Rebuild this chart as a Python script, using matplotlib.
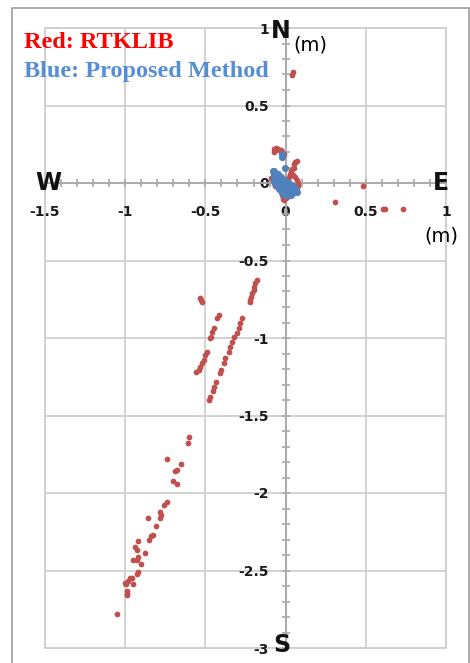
import matplotlib.pyplot as plt
import matplotlib.ticker as mticker
from matplotlib.patches import Rectangle
import numpy as np

##-------------------------------------------------------------
# RTKLIB positions, (east, north) in metres
rtk_top = [(0.040, 0.700), (0.046, 0.716)]
rtk_origin = [(-0.070, 0.220), (-0.060, 0.225), (-0.050, 0.220), (-0.040, 0.215),
              (-0.030, 0.210), (-0.075, 0.200), (-0.020, 0.200), (-0.010, 0.190),
              (0.070, 0.140), (0.060, 0.135), (0.055, 0.120), (0.050, 0.100),
              (0.040, 0.090), (0.035, 0.075), (0.030, 0.060), (0.045, 0.050),
              (0.060, 0.040), (0.070, 0.020), (0.075, 0.000), (0.080, -0.020),
              (0.070, -0.060), (-0.090, 0.030), (-0.080, 0.010), (-0.070, 0.000),
              (-0.065, -0.020), (-0.020, -0.080), (-0.015, -0.100), (-0.010, -0.110),
              (0.005, -0.095), (-0.030, -0.060), (0.020, 0.040)]
rtk_east = [(0.480, -0.020), (0.310, -0.120), (0.610, -0.170), (0.620, -0.165),
            (0.730, -0.170)]
rtk_streak_a = [(-0.181, -0.626), (-0.188, -0.647), (-0.194, -0.669), (-0.198, -0.690),
                (-0.208, -0.712), (-0.214, -0.734), (-0.219, -0.755), (-0.223, -0.770)]
rtk_streak_b = [(-0.271, -0.873), (-0.285, -0.905), (-0.292, -0.938), (-0.306, -0.970),
                (-0.323, -0.991), (-0.333, -1.024), (-0.344, -1.056), (-0.354, -1.088),
                (-0.375, -1.131), (-0.385, -1.163), (-0.402, -1.206), (-0.410, -1.228),
                (-0.431, -1.282), (-0.444, -1.314), (-0.452, -1.342), (-0.469, -1.379),
                (-0.479, -1.400)]
rtk_streak_c = [(-0.417, -0.852), (-0.427, -0.873), (-0.448, -0.938), (-0.458, -0.959),
                (-0.465, -0.992), (-0.469, -1.002), (-0.490, -1.088), (-0.500, -1.110),
                (-0.510, -1.142), (-0.520, -1.163), (-0.531, -1.185), (-0.542, -1.206),
                (-0.556, -1.217), (-0.535, -0.744), (-0.527, -0.755), (-0.520, -0.766)]
rtk_tail = [(-0.600, -1.640), (-0.610, -1.680), (-0.740, -1.780), (-0.650, -1.810),
            (-0.675, -1.850), (-0.690, -1.860), (-0.700, -1.920), (-0.680, -1.940),
            (-0.740, -2.060), (-0.755, -2.080), (-0.780, -2.120), (-0.775, -2.140),
            (-0.855, -2.160), (-0.785, -2.160), (-0.805, -2.210), (-0.825, -2.270),
            (-0.840, -2.280), (-0.850, -2.300), (-0.920, -2.310), (-0.940, -2.350),
            (-0.925, -2.370), (-0.875, -2.390), (-0.950, -2.430), (-0.920, -2.410),
            (-0.925, -2.430), (-0.900, -2.460), (-0.920, -2.510), (-0.925, -2.520),
            (-0.955, -2.550), (-0.970, -2.550), (-0.980, -2.570), (-1.000, -2.580),
            (-0.995, -2.590), (-0.950, -2.590), (-0.990, -2.630), (-0.990, -2.650),
            (-0.990, -2.660), (-1.050, -2.780)]

# proposed method positions, (east, north) in metres
prop_blob = [(-0.080, 0.080), (-0.070, 0.080),
             (-0.075, 0.060), (-0.060, 0.060), (-0.048, 0.060),
             (-0.070, 0.040), (-0.055, 0.040), (-0.040, 0.040), (-0.027, 0.040),
             (-0.070, 0.020), (-0.055, 0.020), (-0.040, 0.020), (-0.025, 0.020),
             (-0.010, 0.020), (-0.003, 0.020),
             (-0.065, 0.000), (-0.050, 0.000), (-0.035, 0.000), (-0.020, 0.000),
             (-0.005, 0.000), (0.010, 0.000), (0.020, 0.000),
             (-0.055, -0.020), (-0.040, -0.020), (-0.025, -0.020), (-0.010, -0.020),
             (0.005, -0.020), (0.020, -0.020), (0.035, -0.020), (0.044, -0.020),
             (-0.040, -0.040), (-0.025, -0.040), (-0.010, -0.040), (0.005, -0.040),
             (0.020, -0.040), (0.035, -0.040), (0.050, -0.040), (0.066, -0.040),
             (-0.025, -0.060), (-0.010, -0.060), (0.005, -0.060), (0.020, -0.060),
             (0.035, -0.060), (0.050, -0.060), (0.070, -0.058),
             (-0.010, -0.080), (0.005, -0.080), (0.020, -0.080), (0.035, -0.075)]
prop_outliers = [(-0.025, 0.190), (-0.022, 0.170), (-0.006, 0.095)]

xticks_major = [-1.5, -1, -0.5, 0, 0.5, 1]
yticks_major = [-3, -2.5, -2, -1.5, -1, -0.5, 0, 0.5, 1]
##-------------------------------------------------------------

W, H = 470, 663
plt.rcParams['axes.unicode_minus'] = False
plt.rcParams['font.family'] = 'DejaVu Sans'

red = '#C0504D'
blue = '#4F81BD'
gridc = '#CFCFCF'
axc = '#A8A8A8'

def fx(px):
    return px / W

def fy(py):
    return 1 - py / H

fig = plt.figure(figsize=(W / 100, H / 100), dpi=100)
fig.patches.append(Rectangle((fx(12), -0.02), fx(469) - fx(12), fy(8) + 0.02,
                             transform=fig.transFigure, fill=False,
                             edgecolor='#A6A6A6', lw=1.3))

ax = fig.add_axes([fx(45), fy(648), fx(446) - fx(45), fy(28) - fy(648)])
ax.set_xlim(-1.5, 1)
ax.set_ylim(-3, 1)

rtk = np.array(rtk_top + rtk_origin + rtk_east + rtk_streak_a + rtk_streak_b +
               rtk_streak_c + rtk_tail)
prop = np.array(prop_blob + prop_outliers)
ax.scatter(rtk[:, 0], rtk[:, 1], s=17, color=red, lw=0, zorder=3)
ax.scatter(prop[:, 0], prop[:, 1], s=26, color=blue, lw=0, zorder=4)

# axes crossing at the origin
for side in ['top', 'right']:
    ax.spines[side].set_visible(False)
for side in ['left', 'bottom']:
    ax.spines[side].set_position('zero')
    ax.spines[side].set_color(axc)
    ax.spines[side].set_linewidth(1.3)
ax.add_patch(Rectangle((0, 0), 1, 1, transform=ax.transAxes, fill=False,
                       edgecolor=gridc, lw=1.3, clip_on=False, zorder=0.5))

ax.set_xticks(xticks_major)
ax.set_yticks(yticks_major)
ax.xaxis.set_minor_locator(mticker.MultipleLocator(0.1))
ax.yaxis.set_minor_locator(mticker.MultipleLocator(0.1))
fmt = mticker.FuncFormatter(lambda v, p: '%g' % v)
ax.xaxis.set_major_formatter(fmt)
ax.yaxis.set_major_formatter(fmt)
ax.tick_params(which='both', direction='inout', length=6, width=1.2, color=axc)
ax.tick_params(axis='x', which='major', pad=13, labelsize=10, labelcolor='#1A1A1A')
ax.tick_params(axis='y', which='major', pad=9, labelsize=10, labelcolor='#1A1A1A')
for lab in ax.get_xticklabels() + ax.get_yticklabels():
    lab.set_fontweight('bold')
ax.grid(which='major', color=gridc, lw=1.3, zorder=0)
ax.set_axisbelow(True)

# compass letters and units
for s, px, py in [('N', 281, 31), ('W', 48, 183), ('E', 441, 183), ('S', 282, 645)]:
    fig.text(fx(px), fy(py), s, fontsize=17, fontweight='bold', ha='center',
             va='center', color='#111111')
fig.text(fx(310), fy(45), '(m)', fontsize=14, ha='center', va='center')
fig.text(fx(441), fy(236), '(m)', fontsize=14, ha='center', va='center')

fig.text(fx(24), fy(42), 'Red: RTKLIB', fontsize=17.5, fontweight='bold',
         family='Liberation Serif', color='#FF0000', ha='left', va='center')
fig.text(fx(24), fy(72), 'Blue: Proposed Method', fontsize=17.5, fontweight='bold',
         family='Liberation Serif', color='#558ED5', ha='left', va='center')

plt.savefig('out.png', dpi=100)
